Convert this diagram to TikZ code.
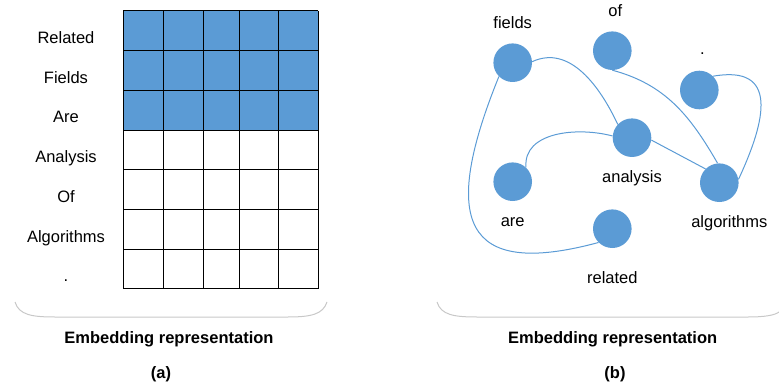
\documentclass[tikz,border=0pt]{standalone}
\usepackage{fontspec}
\setmainfont{Liberation Sans}
\usepackage{tikz}

\definecolor{cellblue}{HTML}{5B9BD5}
\definecolor{traygray}{HTML}{C8C8C8}

\begin{document}
\begin{tikzpicture}[
		x=1pt, y=-1pt,
		every node/.style={font=\fontsize{16.5}{19}\selectfont},
		heading/.style={font=\fontsize{16.5}{19}\selectfont\bfseries},
		word/.style={circle, fill=cellblue, minimum size=38.6pt, inner sep=0pt},
		every label/.append style={inner sep=0pt, text height=12pt, text depth=4pt},
		label distance=13.5pt,
		link/.style={draw=cellblue, line width=1pt},
		tray/.style={draw=traygray, line width=1pt}
	]
  \useasboundingbox (0,0) rectangle (779,385);

  % (a)
  \foreach \w [count=\i] in {Related,Fields,Are,Analysis,Of,Algorithms,.}
    \node (row\i) [anchor=base] at (66, {43.5+39.7*(\i-1)}) {\w};
  \fill[cellblue] (123,11) rectangle (318,130.1);
  \foreach \x in {123,163,203,239,278,318}
    \draw[line width=1pt] (\x,11) -- (\x,289);
  \foreach \y in {0,...,7}
    \draw[line width=1pt] (123,{11+39.7*\y}) -- (318,{11+39.7*\y});
  \draw[tray] (15,302) .. controls (19,315) and (32,317) .. (55,317)
    -- (288,317) .. controls (312,317) and (323,314) .. (327,302);
  \node (capa) [heading] at (169,339) {Embedding representation};
  \node (taga) [heading] at (161,374) {(a)};

  % (b)
  \node (fields) [word, label={[yshift=-3pt]above:fields}] at (512.7,62.7) {};
  \node (of) [word, label={[xshift=3pt, yshift=-3pt]above:of}] at (612.3,50.7) {};
  \node (dot) [word, label={[xshift=3pt, yshift=-2pt]above:.}] at (699.3,90) {};
  \node (analysis) [word, label=below:analysis] at (632,137.7) {};
  \node (are) [word, label=below:are] at (512.7,181.7) {};
  \node (algorithms) [word, label={[xshift=10pt]below:algorithms}] at (719.3,182.7) {};
  \node (related) [word, label={[yshift=-9.5pt]below:related}] at (612.3,228.7) {};

  \draw[link] (fields.3) to[out=25,in=115] (analysis.137);
  \draw[link] (fields.225) .. controls +(-58,143) and +(-137,37) .. (related.225);
  \draw[link] (are.47) to[out=95,in=165] (analysis.175);
  \draw[link] (analysis.-7) -- (algorithms.135);
  \draw[link] (of.270) to[out=-15,in=120] (algorithms.95);
  \draw[link] (dot.45) to[out=10,in=65,looseness=1.6] (algorithms.10);

  \draw[tray] (437,302) .. controls (441,315) and (454,317) .. (477,317)
    -- (748,317) .. controls (766,317) and (775,315) .. (779,312);
  \node (capb) [heading] at (612.7,339) {Embedding representation};
  \node (tagb) [heading] at (615,374) {(b)};
\end{tikzpicture}
\end{document}
